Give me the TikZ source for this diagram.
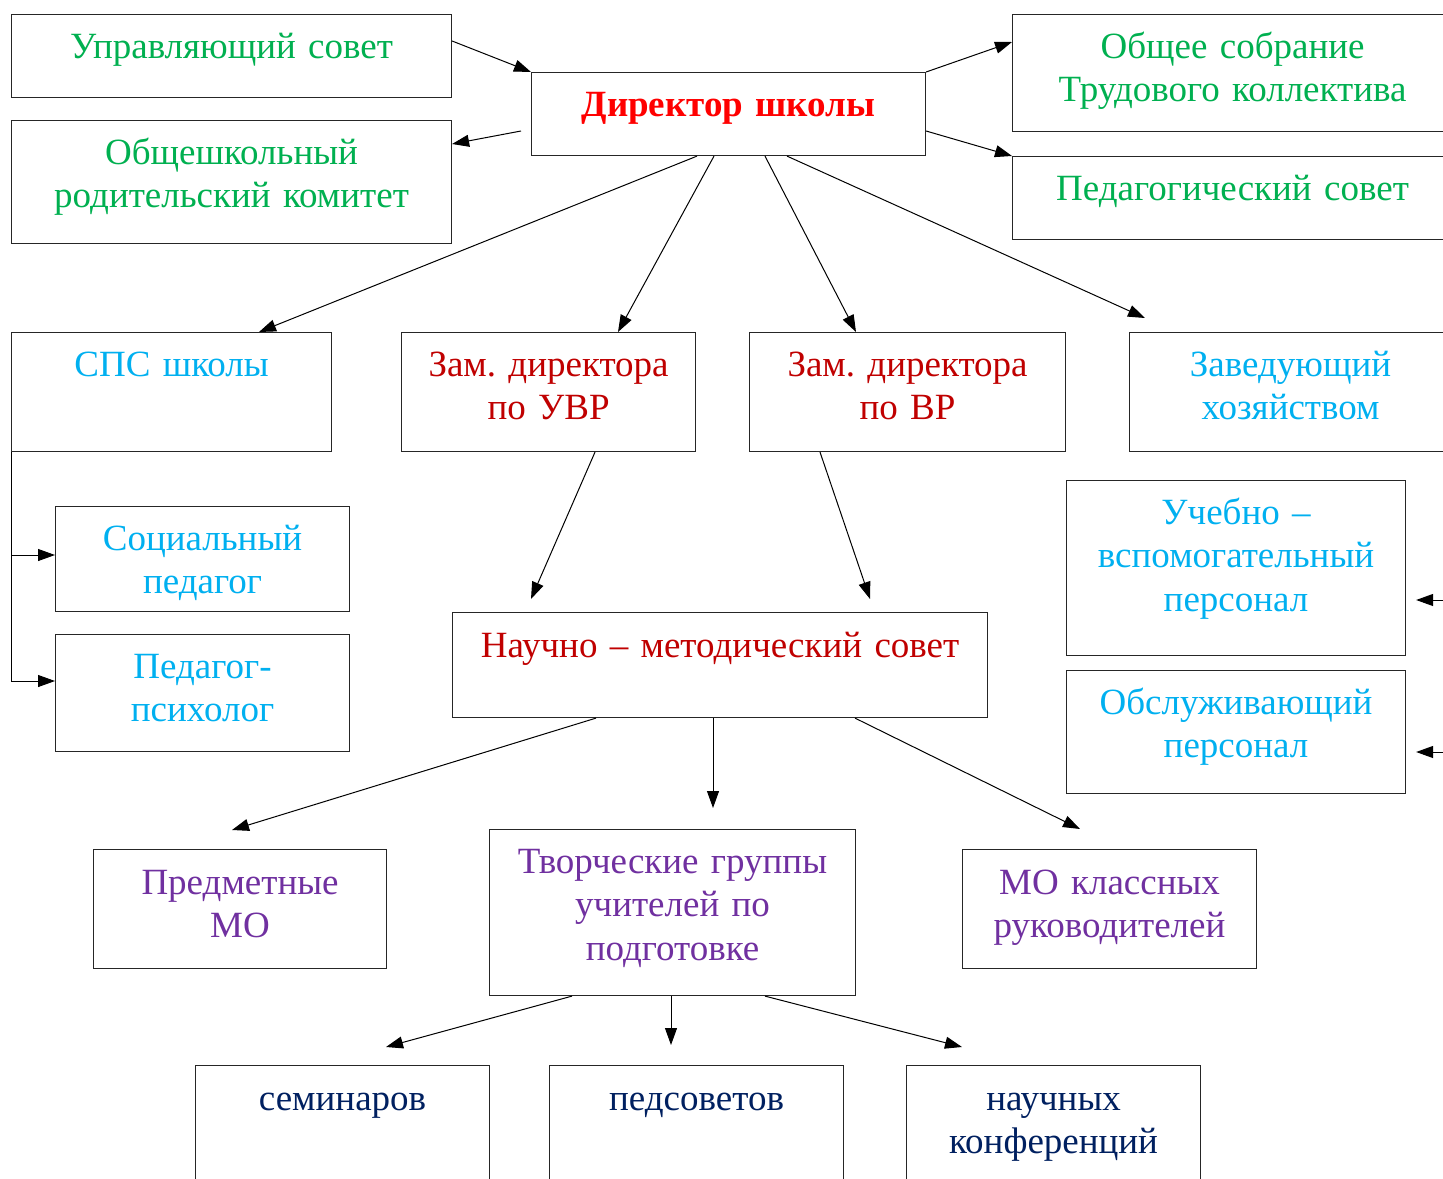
\documentclass[tikz,border=0pt]{standalone}
\usepackage{fontspec}
\setmainfont{Liberation Serif}
\usetikzlibrary{arrows.meta}
\definecolor{cgreen}{HTML}{00B050}
\definecolor{cred}{HTML}{FF0000}
\definecolor{cdred}{HTML}{C00000}
\definecolor{ccyan}{HTML}{00B0F0}
\definecolor{cpurple}{HTML}{7030A0}
\definecolor{cnavy}{HTML}{002060}
\frenchspacing
\begin{document}
\begin{tikzpicture}[x=1pt,y=-1pt,
  orgbox/.style={draw=black!85, line width=1.1pt, inner sep=0pt, anchor=north west},
  lbl/.style={inner sep=0pt, anchor=base, text width=560pt, align=center,
    font=\fontsize{37pt}{43.5pt}\selectfont},
  arr/.style={line width=1pt, draw=black, -{Triangle[length=17pt,width=12pt]}}]
\useasboundingbox (0,0) rectangle (1443,1178);
\fill[white] (0,0) rectangle (1443,1178);

% boxes
\node[orgbox, minimum width=440pt, minimum height=83pt]  (U)   at (11,14) {};
\node[orgbox, minimum width=440pt, minimum height=123pt] (O)   at (11,120) {};
\node[orgbox, minimum width=394pt, minimum height=83pt]  (D)   at (531,72) {};
\node[orgbox, minimum width=440pt, minimum height=117pt] (OS)  at (1012,14) {};
\node[orgbox, minimum width=440pt, minimum height=83pt]  (PS)  at (1012,156) {};
\node[orgbox, minimum width=320pt, minimum height=119pt] (SPS) at (11,332) {};
\node[orgbox, minimum width=294pt, minimum height=119pt] (UVR) at (401,332) {};
\node[orgbox, minimum width=316pt, minimum height=119pt] (VR)  at (749,332) {};
\node[orgbox, minimum width=322pt, minimum height=119pt] (ZAV) at (1129,332) {};
\node[orgbox, minimum width=294pt, minimum height=105pt] (SP)  at (55,506) {};
\node[orgbox, minimum width=294pt, minimum height=117pt] (PP)  at (55,634) {};
\node[orgbox, minimum width=339pt, minimum height=175pt] (UVP) at (1066,480) {};
\node[orgbox, minimum width=339pt, minimum height=123pt] (OBS) at (1066,670) {};
\node[orgbox, minimum width=535pt, minimum height=105pt] (NMS) at (452,612) {};
\node[orgbox, minimum width=293pt, minimum height=119pt] (PMO) at (93,849) {};
\node[orgbox, minimum width=366pt, minimum height=166pt] (TG)  at (489,829) {};
\node[orgbox, minimum width=294pt, minimum height=119pt] (MOK) at (962,849) {};
\node[orgbox, minimum width=294pt, minimum height=150pt] (SEM) at (195,1065) {};
\node[orgbox, minimum width=294pt, minimum height=150pt] (PED) at (549,1065) {};
\node[orgbox, minimum width=294pt, minimum height=150pt] (NK)  at (906,1065) {};

% texts
\node[lbl, text=cgreen] (Ut) at ([yshift=-44pt]U.north) {Управляющий совет};
\node[lbl, text=cgreen] (Ot) at ([yshift=-44pt]O.north) {Общешкольный\\родительский комитет};
\node[lbl, text=cred, font=\fontsize{37pt}{43.5pt}\selectfont\bfseries] (Dt) at ([yshift=-44pt]D.north) {Директор школы};
\node[lbl, text=cgreen] (OSt) at ([yshift=-44pt]OS.north) {Общее собрание\\Трудового коллектива};
\node[lbl, text=cgreen] (PSt) at ([yshift=-44pt]PS.north) {Педагогический совет};
\node[lbl, text=ccyan] (SPSt) at ([yshift=-44pt]SPS.north) {СПС школы};
\node[lbl, text=cdred] (UVRt) at ([yshift=-44pt]UVR.north) {Зам. директора\\по УВР};
\node[lbl, text=cdred] (VRt) at ([yshift=-44pt]VR.north) {Зам. директора\\по ВР};
\node[lbl, text=ccyan] (ZAVt) at ([yshift=-44pt]ZAV.north) {Заведующий\\хозяйством};
\node[lbl, text=ccyan] (SPt) at ([yshift=-44pt]SP.north) {Социальный\\педагог};
\node[lbl, text=ccyan] (PPt) at ([yshift=-44pt]PP.north) {Педагог-\\психолог};
\node[lbl, text=ccyan] (UVPt) at ([yshift=-44pt]UVP.north) {Учебно –\\вспомогательный\\персонал};
\node[lbl, text=ccyan] (OBSt) at ([yshift=-44pt]OBS.north) {Обслуживающий\\персонал};
\node[lbl, text=cdred] (NMSt) at ([yshift=-45pt]NMS.north) {Научно – методический совет};
\node[lbl, text=cpurple] (PMOt) at ([yshift=-45pt]PMO.north) {Предметные\\МО};
\node[lbl, text=cpurple] (TGt) at ([yshift=-44pt]TG.north) {Творческие группы\\учителей по\\подготовке};
\node[lbl, text=cpurple] (MOKt) at ([yshift=-45pt]MOK.north) {МО классных\\руководителей};
\node[lbl, text=cnavy] (SEMt) at ([yshift=-45pt]SEM.north) {семинаров};
\node[lbl, text=cnavy] (PEDt) at ([yshift=-45pt]PED.north) {педсоветов};
\node[lbl, text=cnavy] (NKt) at ([yshift=-45pt]NK.north) {научных\\конференций};

% free ends
\coordinate (dl) at ([xshift=-10pt,yshift=-59pt]D.north west);
\coordinate (r1) at (1470,600);
\coordinate (r2) at (1470,752);

% connectors
\draw[arr] ([yshift=-27pt]U.north east) -- (D.north west);
\draw[arr] (dl) -- ([yshift=-24pt]O.north east);
\draw[arr] (D.north east) -- ([yshift=-28pt]OS.north west);
\draw[arr] ([yshift=-59pt]D.north east) -- (PS.north west);
\draw[arr] ([xshift=166pt]D.south west) -- ([xshift=248pt]SPS.north west);
\draw[arr] ([xshift=183pt]D.south west) -- ([xshift=217pt]UVR.north west);
\draw[arr] ([xshift=234pt]D.south west) -- ([xshift=107pt]VR.north west);
\draw[arr] ([xshift=256pt]D.south west) -- ([xshift=16pt,yshift=14pt]ZAV.north west);
\draw[arr] ([xshift=194pt]UVR.south west) -- ([xshift=79pt,yshift=13pt]NMS.north west);
\draw[arr] ([xshift=71pt]VR.south west) -- ([xshift=418pt,yshift=13pt]NMS.north west);
\draw[arr] ([xshift=144pt]NMS.south west) -- ([xshift=139pt,yshift=19pt]PMO.north west);
\draw[arr] ([xshift=261pt]NMS.south west) -- ([xshift=224pt,yshift=21pt]TG.north west);
\draw[arr] ([xshift=403pt]NMS.south west) -- ([xshift=118pt,yshift=20pt]MOK.north west);
\draw[arr] ([xshift=83pt]TG.south west) -- ([xshift=191pt,yshift=18pt]SEM.north west);
\draw[arr] ([xshift=182pt]TG.south west) -- ([xshift=122pt,yshift=20pt]PED.north west);
\draw[arr] ([xshift=276pt]TG.south west) -- ([xshift=56pt,yshift=18pt]NK.north west);
\draw[arr] (SPS.south west) |- ([yshift=-47pt]PP.north west);
\draw[arr] (SPS.south west) |- ([yshift=-49pt]SP.north west);
\draw[arr] (r1) -- ([xshift=10pt,yshift=-120pt]UVP.north east);
\draw[arr] (r2) -- ([xshift=10pt,yshift=-82pt]OBS.north east);
\end{tikzpicture}
\end{document}
